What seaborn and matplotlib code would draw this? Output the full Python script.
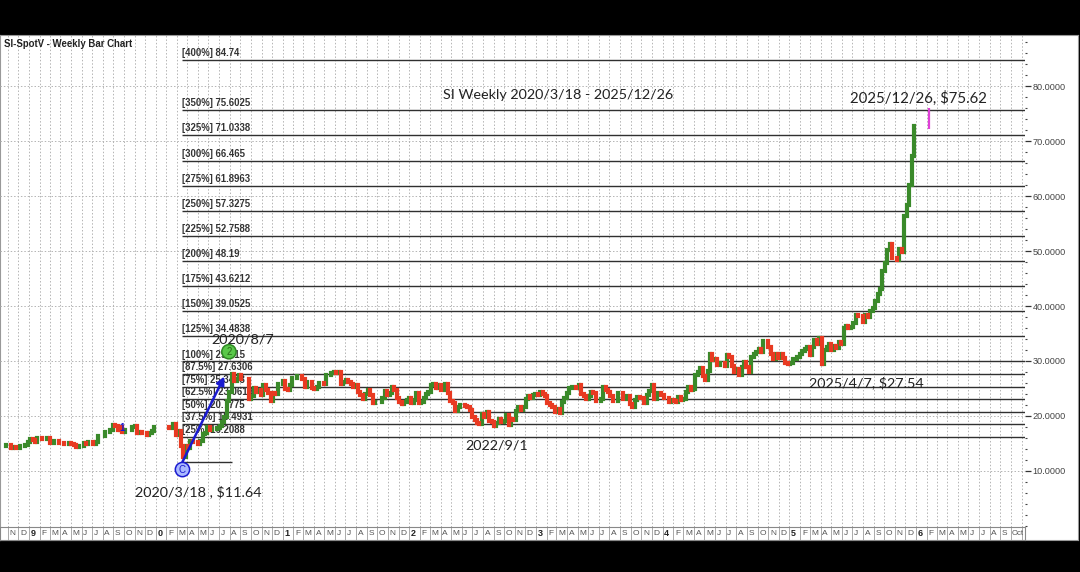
import numpy as np
import pandas as pd
import matplotlib
matplotlib.use("Agg")
import matplotlib.pyplot as plt
import matplotlib.ticker as mticker
import seaborn as sns

# weekly closes (Fridays)
close_2018 = [14.58, 14.60, 14.68, 14.80, 14.15, 14.30, 14.18, 14.20, 14.53, 14.62, 14.66, 15.33]
close_2019 = [15.72, 15.70, 15.33, 16.08, 15.96, 15.83, 15.80, 15.92, 15.04, 15.10, 15.37, 15.50, 15.10,
              15.07, 14.98, 14.97, 15.10, 14.95, 14.78, 14.40, 14.55, 14.57, 15.02, 14.85, 15.35, 15.30,
              14.97, 15.27, 16.33, 16.33, 16.27, 17.10, 17.07, 17.44, 18.37, 18.17, 17.50, 17.93, 17.00,
              17.52, 17.52, 17.52, 18.05, 18.12, 16.82, 17.06, 16.90, 16.95, 16.57, 16.94, 17.18, 17.95]
close_2020 = [18.06, 17.98, 18.05, 18.05, 17.99, 17.78, 17.73, 18.47, 16.60, 17.25, 14.60, 12.60, 14.55,
              14.20, 15.50, 15.25, 15.25, 14.93, 15.50, 16.63, 16.97, 18.00, 17.50, 17.58, 17.56, 17.80,
              18.10, 18.94, 19.77, 22.75, 24.40, 27.55, 26.38, 26.67, 27.45, 26.75, 26.70, 26.76, 23.10,
              23.67, 25.05, 24.33, 24.70, 23.83, 25.65, 24.72, 24.15, 22.65, 24.20, 23.93, 25.85, 25.85]
close_2021 = [26.40, 24.90, 24.80, 25.55, 26.90, 26.95, 27.35, 27.25, 26.65, 25.20, 26.18, 26.25, 25.05,
              24.95, 25.25, 25.95, 26.05, 25.90, 27.45, 27.40, 27.80, 27.95, 27.85, 28.00, 25.90, 26.15,
              26.50, 26.20, 25.80, 25.25, 25.55, 24.40, 23.75, 23.05, 24.05, 24.70, 23.75, 22.35, 22.50,
              22.55, 22.60, 23.35, 24.45, 23.90, 24.15, 25.25, 24.65, 23.35, 22.45, 22.20, 22.50, 22.85, 23.30]
close_2022 = [22.40, 22.95, 24.25, 22.35, 22.45, 23.20, 23.95, 24.30, 25.65, 25.85, 25.05, 25.55, 24.75,
              24.80, 25.75, 24.20, 22.75, 22.35, 20.85, 21.70, 22.05, 21.95, 21.85, 21.70, 21.15, 19.85,
              19.20, 18.65, 18.60, 20.30, 19.90, 20.80, 19.00, 18.85, 18.15, 18.80, 19.45, 18.90, 19.05,
              20.10, 18.30, 19.40, 19.20, 20.95, 21.65, 21.05, 21.55, 23.15, 23.60, 23.25, 23.75, 23.95]
close_2023 = [23.85, 24.30, 23.95, 23.65, 22.35, 22.05, 21.65, 20.80, 21.25, 20.45, 22.55, 23.25, 24.10,
              25.00, 25.35, 25.20, 25.00, 25.65, 23.95, 23.55, 23.15, 23.55, 24.30, 24.15, 22.65, 22.75,
              23.10, 25.20, 24.65, 24.35, 23.60, 22.70, 22.75, 24.25, 24.15, 23.00, 23.00, 23.55, 22.25,
              21.60, 22.90, 23.40, 23.20, 23.30, 22.30, 23.75, 24.50, 25.55, 23.00, 24.10, 24.20, 23.80]
close_2024 = [23.20, 23.20, 22.60, 22.85, 22.80, 22.55, 23.45, 22.85, 23.10, 24.40, 25.20, 24.70, 24.95,
              27.40, 28.00, 28.70, 27.30, 26.50, 28.20, 31.25, 30.25, 30.40, 29.20, 29.60, 29.55, 29.15,
              31.15, 30.75, 29.15, 28.00, 28.60, 27.45, 28.95, 29.85, 28.85, 28.05, 30.80, 31.25, 31.70,
              32.15, 31.65, 33.70, 33.70, 32.55, 31.30, 30.30, 31.25, 30.60, 31.20, 30.50, 29.55, 29.40]
close_2025 = [29.65, 30.40, 30.35, 30.80, 31.30, 31.85, 32.25, 32.50, 31.15, 32.55, 33.75, 33.00, 34.10,
              29.50, 32.00, 32.50, 33.15, 31.95, 32.65, 32.30, 33.40, 33.00, 36.00, 36.30, 36.00, 36.10,
              36.95, 38.35, 38.15, 38.15, 37.05, 38.30, 37.95, 39.05, 39.70, 41.00, 42.20, 43.10, 46.40,
              47.90, 50.15, 51.35, 48.65, 48.65, 48.30, 50.45, 49.80, 56.40, 58.40, 62.00, 67.20, 72.80]
first_week = "2018-10-12"

# fibonacci extension levels
fib_pcts = ["400%", "350%", "325%", "300%", "275%", "250%", "225%", "200%", "175%", "150%",
            "125%", "100%", "87.5%", "75%", "62.5%", "50%", "37.5%", "25%"]
fib_vals = [84.74, 75.6025, 71.0338, 66.465, 61.8963, 57.3275, 52.7588, 48.19, 43.6212, 39.0525,
            34.4838, 29.915, 27.6306, 25.3463, 23.0619, 20.7775, 18.4931, 16.2088]

low_date, low_price = pd.Timestamp("2020-03-18"), 11.64
high_date, high_price = pd.Timestamp("2020-08-07"), 29.915
proj_date, proj_lo, proj_hi = pd.Timestamp("2026-02-06"), 72.2, 76.0
mark1_date, mark1_val = pd.Timestamp("2019-09-27"), 17.9

closes = close_2018 + close_2019 + close_2020 + close_2021 + close_2022 + close_2023 + close_2024 + close_2025
df = pd.DataFrame({"date": pd.date_range(first_week, periods=len(closes), freq="7D"), "close": closes})
df["open"] = df["close"].shift(1).fillna(df["close"].iloc[0])
df["lo"] = df[["open", "close"]].min(axis=1)
df["hi"] = df[["open", "close"]].max(axis=1)
up = df["close"] >= df["open"]

sns.set_theme(style="white")
plt.rcParams["font.family"] = ["Liberation Sans", "DejaVu Sans"]

W, H = 1080, 572
fig = plt.figure(figsize=(W / 100, H / 100), dpi=100, facecolor="black")


def box(x0, y0, x1, y1):
    return [x0 / W, 1 - y1 / H, (x1 - x0) / W, (y1 - y0) / H]


bg = fig.add_axes(box(0, 35, 1078, 540))
bg.set_facecolor("white")
bg.set_xticks([])
bg.set_yticks([])
for s in bg.spines.values():
    s.set_color("#999999")
    s.set_linewidth(0.8)

ax = fig.add_axes(box(0, 35, 1025, 527))
ax.patch.set_alpha(0)
x0, x1 = pd.Timestamp("2018-10-09"), pd.Timestamp("2026-11-11")
ax.set_xlim(x0, x1)
ax.set_ylim(-0.2, 89.3)

months = pd.date_range("2018-11-01", "2026-11-01", freq="MS")
ax.set_xticks(months)
ax.tick_params(axis="x", length=0, labelbottom=False)
ax.set_yticks(range(10, 90, 10))
ax.yaxis.set_minor_locator(mticker.MultipleLocator(2))
ax.yaxis.set_major_formatter(mticker.FormatStrFormatter("%.4f"))
ax.yaxis.tick_right()
ax.tick_params(axis="y", which="major", right=True, left=False, length=4, width=0.9,
               color="#333333", labelsize=6.6, labelcolor="#444444", pad=1.5)
ax.tick_params(axis="y", which="minor", right=True, left=False, length=1.5, width=0.8, color="#444444")
ax.grid(True, which="major", ls=(0, (1.5, 2)), color="#b4b4b4", lw=0.7)
for s in ax.spines.values():
    s.set_visible(False)

# fib lines and labels
ax.hlines(fib_vals, low_date, x1, color="#303030", lw=1.0, zorder=2)
ax.hlines(low_price, low_date, high_date, color="#303030", lw=1.0, zorder=2)
for p, v in zip(fib_pcts, fib_vals):
    ax.annotate(f"[{p}] {v}", xy=(low_date, v), xytext=(0, 5), textcoords="offset points",
                fontsize=6.9, fontweight="bold", color="#333333", va="center", ha="left", zorder=2)

# weekly bars
green, red = "#3a8a2a", "#e83a22"
bars_up = ax.vlines(df["date"][up], df["lo"][up], df["hi"][up], color=green, lw=3.0, zorder=3)
bars_dn = ax.vlines(df["date"][~up], df["lo"][~up], df["hi"][~up], color=red, lw=3.0, zorder=3)
for b in (bars_up, bars_dn):
    b.set_capstyle("projecting")
ax.vlines(proj_date, proj_lo, proj_hi, color="#e040d8", lw=1.6, zorder=3)

# swing markers
ax.annotate("", xy=(high_date, high_price), xytext=(low_date, low_price),
            arrowprops=dict(arrowstyle="-|>", color="#1a1ad0", lw=1.8, shrinkA=0, shrinkB=12,
                            mutation_scale=12), zorder=4)
ax.annotate("C", xy=(low_date, low_price), xytext=(0, -5.5), textcoords="offset points",
            ha="center", va="center", fontsize=7, color="#1a1ad0", zorder=5,
            bbox=dict(boxstyle="circle,pad=0.22", fc="#a9b8ff", ec="#1a1ad0", lw=1.1))
ax.annotate("2", xy=(high_date, high_price), xytext=(-2, 7), textcoords="offset points",
            ha="center", va="center", fontsize=7, color="#2a6a1a", zorder=5,
            bbox=dict(boxstyle="circle,pad=0.22", fc="#5ac84a", ec="#2f8a24", lw=1.1))
ax.annotate("1", xy=(mark1_date, mark1_val), ha="center", va="center", fontsize=7,
            fontweight="bold", color="#1a1ad0", zorder=5)

# month strip
strip = fig.add_axes(box(0, 527, 1025, 540))
strip.set_xlim(x0, x1)
strip.set_ylim(0, 1)
strip.set_facecolor("white")
strip.set_xticks([])
strip.set_yticks([])
for s in strip.spines.values():
    s.set_color("#888888")
    s.set_linewidth(0.8)
strip.vlines(months, 0, 1, color="#aaaaaa", lw=0.7)
for m in months[:-1]:
    if m.month == 1:
        lab, fw, col, fs, dx = str(m.year)[-1], "bold", "#222222", 6.5, 1.2
    elif m == months[-2]:
        lab, fw, col, fs, dx = "Oct", "normal", "#555555", 5.6, 0.4
    else:
        lab, fw, col, fs, dx = m.strftime("%b")[0], "normal", "#555555", 6, 1.2
    strip.annotate(lab, xy=(m, 0.5), xytext=(dx, 0), textcoords="offset points",
                   ha="left", va="center", fontsize=fs, fontweight=fw, color=col,
                   annotation_clip=False)


def px(x, y):
    return x / W, 1 - y / H


big = dict(family=["Lato", "DejaVu Sans"], color="#222222", va="center", zorder=6)
fig.text(*px(4, 44), "SI-SpotV - Weekly Bar Chart", fontsize=6.9, fontweight="bold", color="#222222",
         va="center", ha="left")
fig.text(*px(558, 95), "SI Weekly 2020/3/18 - 2025/12/26", ha="center", fontsize=10.4, **big)
fig.text(*px(918, 98), "2025/12/26, $75.62", ha="center", fontsize=10.8, **big)
fig.text(*px(243, 340), "2020/8/7", ha="center", fontsize=10.4, **big)
fig.text(*px(198, 492), "2020/3/18 , $11.64", ha="center", fontsize=10.4, **big)
fig.text(*px(497, 445), "2022/9/1", ha="center", fontsize=10.4, **big)
fig.text(*px(866, 383), "2025/4/7, $27.54", ha="center", fontsize=10.4, **big)

fig.savefig("out.png", dpi=100, facecolor="black")
